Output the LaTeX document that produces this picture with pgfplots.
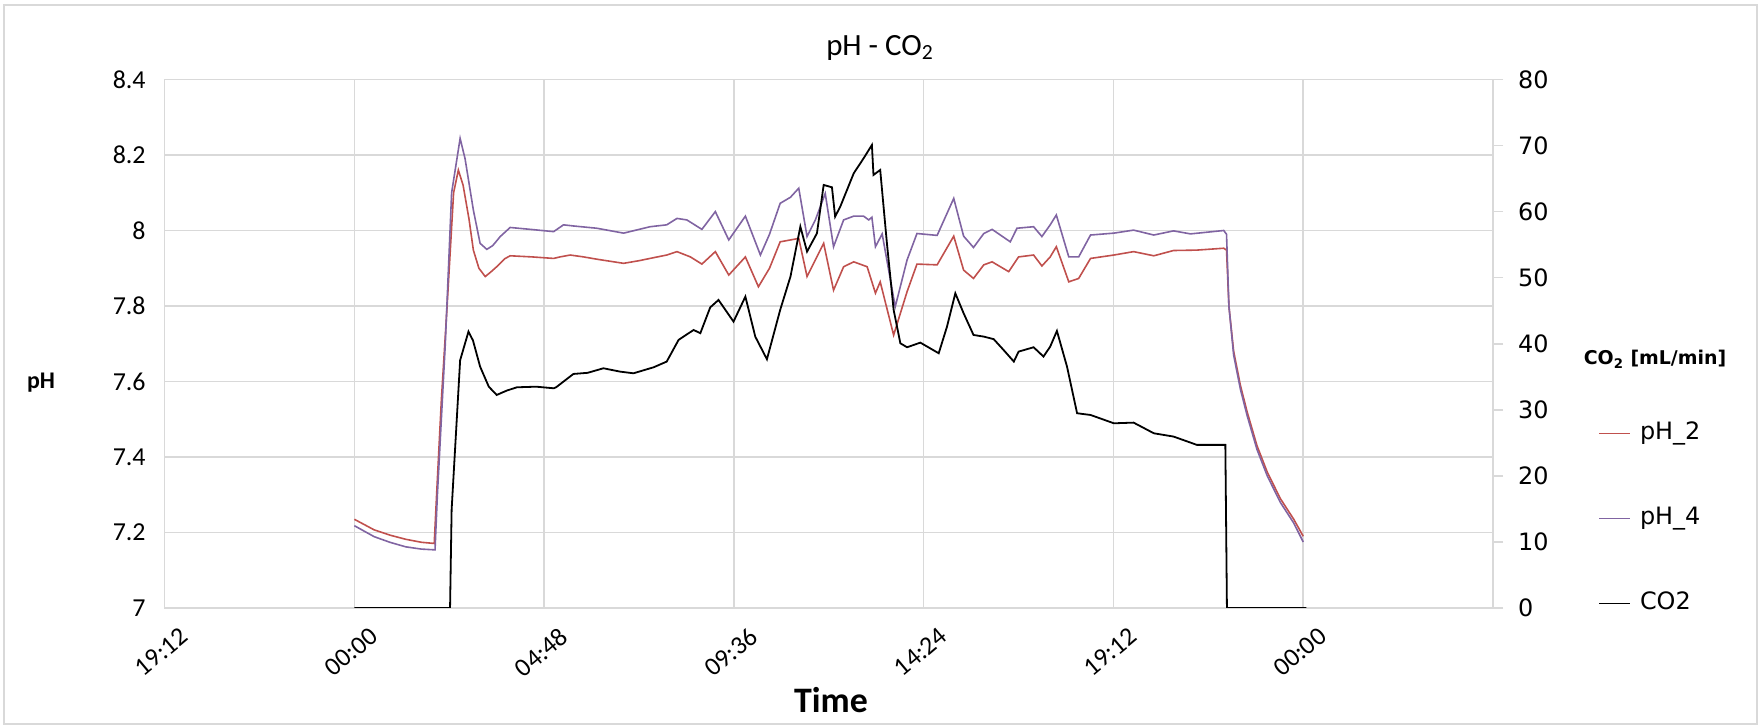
\documentclass[border=0pt]{standalone}
\usepackage{fontspec}
\setmainfont{Carlito}
\newfontfamily\dejavu{DejaVu Sans}
\usepackage{pgfplots}
\usepackage{pgfplotstable}
\pgfplotsset{compat=1.18}
\definecolor{gridgray}{HTML}{D9D9D9}
\definecolor{phtwo}{HTML}{C0504D}
\definecolor{phfour}{HTML}{8064A2}

% time in hours from midnight of day 0 (19.2 = 19:12)
\pgfplotstableread{
h ph
24.0 7.235
24.5 7.207
24.9 7.193
25.3 7.182
25.7 7.174
26.02 7.171
26.08 7.30
26.2 7.55
26.34 7.79
26.51 8.10
26.63 8.16
26.75 8.12
26.9 8.03
27.01 7.948
27.15 7.90
27.31 7.878
27.45 7.89
27.6 7.904
27.8 7.925
27.94 7.933
28.5 7.930
29.04 7.926
29.2 7.93
29.46 7.935
29.8 7.93
30.13 7.924
30.5 7.918
30.81 7.913
31.2 7.92
31.57 7.928
31.9 7.935
32.16 7.944
32.5 7.93
32.79 7.911
33.13 7.944
33.47 7.882
33.89 7.93
34.22 7.851
34.5 7.90
34.77 7.970
35.24 7.979
35.45 7.878
35.66 7.922
35.87 7.966
36.12 7.842
36.375 7.904
36.63 7.917
36.97 7.904
37.18 7.834
37.3 7.864
37.64 7.723
37.98 7.838
38.23 7.911
38.74 7.909
39.16 7.985
39.41 7.895
39.66 7.873
39.92 7.909
40.13 7.917
40.55 7.891
40.8 7.93
41.18 7.935
41.39 7.906
41.6 7.93
41.755 7.957
42.07 7.864
42.32 7.873
42.62 7.926
43.21 7.935
43.71 7.944
44.22 7.933
44.72 7.947
45.3 7.948
45.99 7.953
46.06 7.948
46.12 7.80
46.24 7.68
46.41 7.59
46.58 7.52
46.83 7.43
47.09 7.36
47.42 7.29
47.76 7.235
48.0 7.19
}\phtwotab

\pgfplotstableread{
h ph
24.0 7.218
24.5 7.189
24.9 7.174
25.3 7.162
25.7 7.156
26.04 7.154
26.1 7.30
26.3 7.70
26.46 8.10
26.675 8.244
26.8 8.19
27.01 8.054
27.18 7.966
27.35 7.95
27.5 7.96
27.69 7.984
27.94 8.008
28.45 8.003
29.04 7.997
29.29 8.015
29.54 8.012
30.13 8.006
30.81 7.993
31.48 8.010
31.9 8.015
32.16 8.032
32.41 8.028
32.79 8.003
33.13 8.05
33.47 7.975
33.89 8.038
34.27 7.935
34.5 7.99
34.77 8.072
35.03 8.088
35.24 8.112
35.45 7.984
35.66 8.028
35.91 8.098
36.12 7.957
36.375 8.028
36.63 8.038
36.88 8.038
37.01 8.028
37.09 8.035
37.18 7.957
37.35 7.991
37.68 7.798
37.98 7.922
38.23 7.992
38.74 7.987
39.16 8.085
39.41 7.985
39.66 7.955
39.92 7.992
40.13 8.003
40.59 7.97
40.76 8.006
41.18 8.01
41.39 7.984
41.6 8.015
41.755 8.041
42.07 7.93
42.32 7.93
42.62 7.988
43.21 7.993
43.71 8.001
44.22 7.988
44.72 7.999
45.15 7.991
45.99 8.0
46.06 7.99
46.12 7.80
46.24 7.67
46.41 7.58
46.58 7.51
46.83 7.42
47.09 7.35
47.42 7.28
47.76 7.225
48.0 7.175
}\phfourtab

\pgfplotstableread{
h co2
24.0 0
26.42 0
26.46 14.9
26.675 37.5
26.886 41.84
27.0 40.5
27.18 36.54
27.4 33.5
27.6 32.25
27.85 32.9
28.11 33.41
28.6 33.5
29.04 33.26
29.1 33.4
29.54 35.43
29.9 35.6
30.3 36.29
30.72 35.78
31.06 35.53
31.57 36.44
31.9 37.3
32.2 40.58
32.58 42.09
32.75 41.59
33.0 45.5
33.21 46.63
33.59 43.35
33.89 47.14
34.14 41.08
34.435 37.65
34.77 45.12
35.03 50.16
35.28 57.73
35.45 53.95
35.7 56.72
35.87 64.04
36.08 63.68
36.16 59.25
36.29 60.76
36.63 65.8
36.88 68.07
37.09 70.09
37.13 65.55
37.3 66.31
37.47 55.2
37.64 45.12
37.81 40.07
37.98 39.47
38.315 40.17
38.78 38.56
38.99 42.6
39.2 47.64
39.41 44.61
39.66 41.33
39.92 41.08
40.17 40.7
40.42 39.06
40.68 37.3
40.8 38.81
41.18 39.47
41.43 38.06
41.6 39.57
41.77 41.94
42.025 36.54
42.28 29.48
42.62 29.22
43.21 27.96
43.71 28.06
44.22 26.45
44.72 25.95
45.31 24.69
46.03 24.69
46.07 0
48.08 0
}\cotab

\begin{document}
\begin{tikzpicture}
\begin{axis}[
    name=main,
    scale only axis,
    width=664.2bp, height=264.25bp,
    xmin=19.2, xmax=52.8,
    ymin=7, ymax=8.4,
    xtick={19.2,24,28.8,33.6,38.4,43.2,48,52.8},
    xticklabels={19:12,00:00,04:48,09:36,14:24,19:12,00:00,{}},
    ytick={7,7.2,7.4,7.6,7.8,8,8.2,8.4},
    yticklabels={7,7.2,7.4,7.6,7.8,8,8.2,8.4},
    tick style={draw=none},
    grid=major,
    major grid style={gridgray, line width=0.75bp},
    axis line style={gridgray, line width=0.75bp},
    ticklabel style={font=\fontsize{13}{15}\selectfont},
    xticklabel style={rotate=40, anchor=north east, yshift=-8bp, xshift=3bp},
    yticklabel style={xshift=-6bp},
    /pgf/number format/assume math mode=true,
]
\addplot[phtwo, line width=0.8bp] table[x=h, y=ph] {\phtwotab};
\addplot[phfour, line width=0.8bp] table[x=h, y=ph] {\phfourtab};
\end{axis}

\begin{axis}[
    scale only axis,
    width=664.2bp, height=264.25bp,
    xmin=19.2, xmax=52.8,
    ymin=0, ymax=80,
    axis x line=none,
    axis y line*=right,
    ytick={0,10,...,80},
    tick align=outside,
    major tick length=5bp,
    tick style={gridgray, line width=0.75bp},
    axis line style={gridgray, line width=0.75bp},
    yticklabel style={font=\dejavu\fontsize{12}{14}\selectfont, xshift=4bp},
    /pgf/number format/assume math mode=true,
    legend cell align=left,
    legend image code/.code={\draw[#1] (0bp,0bp) -- (15.5bp,0bp);},
    legend style={draw=none, fill=none, at={(1.0789,0.3538)}, anchor=north west,
        inner sep=0pt, row sep=30.5bp,
        font=\dejavu\fontsize{12}{14}\selectfont,
        nodes={inner sep=0pt, text height=9bp, text depth=3bp},
        /tikz/every odd column/.append style={column sep=4.5bp}},
]
\addlegendimage{phtwo, line width=0.8bp}
\addlegendentry{pH\_2}
\addlegendimage{phfour, line width=0.8bp}
\addlegendentry{pH\_4}
\addplot[black, line width=0.9bp] table[x=h, y=co2] {\cotab};
\addlegendentry{CO2}
\end{axis}

\node[font=\fontsize{15.5}{18}\selectfont] at ([xshift=357.7bp, yshift=16bp]main.north west) {pH - CO\textsubscript{2}};
\node[font=\bfseries\fontsize{18}{20}\selectfont] at ([xshift=333.2bp, yshift=-46bp]main.south west) {Time};
\node[font=\bfseries\fontsize{12}{14}\selectfont] at ([xshift=-61.8bp, yshift=112.5bp]main.south west) {pH};
\node[font=\dejavu\bfseries\fontsize{9.5}{11}\selectfont] at ([xshift=81bp, yshift=124.5bp]main.south east) {CO\textsubscript{2} [mL/min]};

\draw[gridgray, line width=0.75bp] ([xshift=-80.3bp, yshift=-58bp]main.south west) rectangle ([xshift=132bp, yshift=37.25bp]main.north east);
\pgfresetboundingbox
\path ([xshift=-82.3bp, yshift=-59bp]main.south west) rectangle ([xshift=133.5bp, yshift=39.75bp]main.north east);
\end{tikzpicture}
\end{document}
